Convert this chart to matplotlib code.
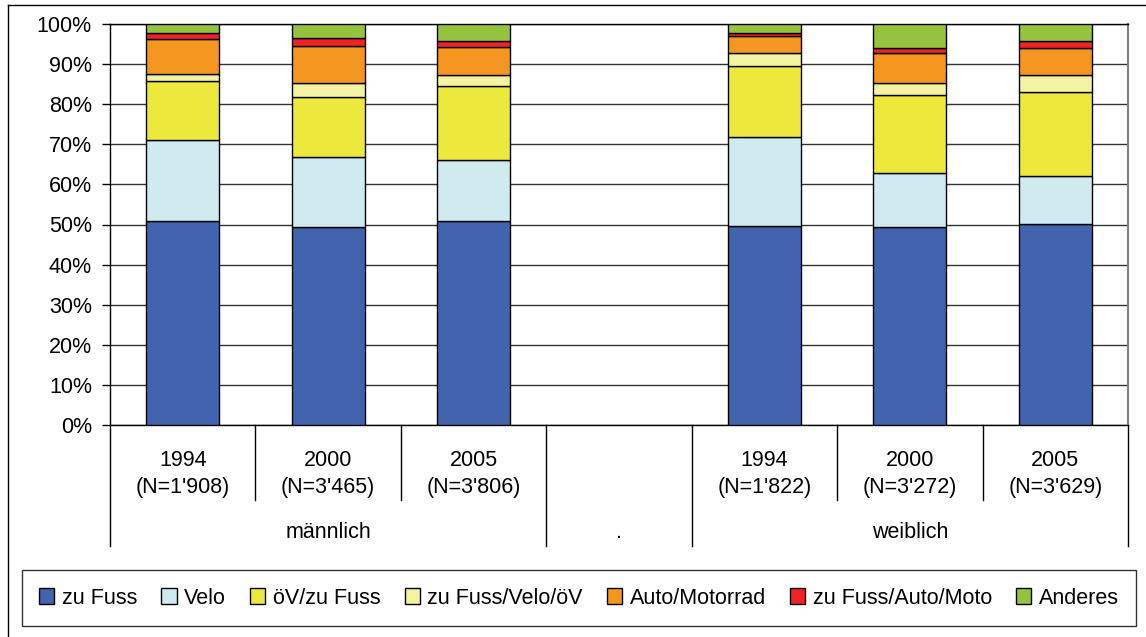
import matplotlib
matplotlib.use("Agg")
import matplotlib.pyplot as plt
import matplotlib.transforms as mtransforms
from matplotlib.patches import Rectangle
from matplotlib.lines import Line2D
import numpy as np

plt.rcParams['font.family'] = ['Liberation Sans', 'DejaVu Sans']

years = ["1994", "2000", "2005"]
n_maennlich = ["1'908", "3'465", "3'806"]
n_weiblich = ["1'822", "3'272", "3'629"]
groups = ["männlich", ".", "weiblich"]

series_names = ["zu Fuss", "Velo", "öV/zu Fuss", "zu Fuss/Velo/öV",
                "Auto/Motorrad", "zu Fuss/Auto/Moto", "Anderes"]
colors = ["#4263AE", "#D0EBEF", "#ECE93C", "#F4F3A2", "#F4961F", "#EE2325", "#95C33D"]

# order: m1994, m2000, m2005, w1994, w2000, w2005
zu_fuss      = [50.9, 49.4, 50.9, 49.6, 49.4, 50.1]
velo         = [20.2, 17.4, 15.3, 22.2, 13.4, 11.9]
oev_zu_fuss  = [14.6, 15.1, 18.3, 17.7, 19.4, 21.0]
fuss_velo_oev= [1.9, 3.4, 2.7, 3.3, 3.1, 4.2]
auto_motorrad= [8.6, 9.3, 7.1, 4.2, 7.5, 6.7]
fuss_auto    = [1.5, 1.9, 1.5, 0.7, 1.2, 1.9]
anderes      = [2.3, 3.5, 4.2, 2.3, 6.0, 4.2]

data = [zu_fuss, velo, oev_zu_fuss, fuss_velo_oev, auto_motorrad, fuss_auto, anderes]

FS = 15.5
W, H = 1146, 637
fig = plt.figure(figsize=(W/100, H/100), dpi=100)
ax = fig.add_axes([110/W, (H-425)/H, (1128-110)/W, (425-24)/H])

xpos = np.array([0.5, 1.5, 2.5, 4.5, 5.5, 6.5])
bottom = np.zeros(len(xpos))
for vals, col, name in zip(data, colors, series_names):
    v = np.array(vals)
    ax.bar(xpos, v, 0.5, bottom=bottom, color=col, edgecolor='black', linewidth=1.0,
           label=name, zorder=3)
    bottom += v

ax.set_xlim(0, 7)
ax.set_ylim(0, 100)
ax.set_yticks(np.arange(0, 101, 10))
ax.set_yticklabels([f"{t}%" for t in range(0, 101, 10)], fontsize=FS)
ax.set_xticks([])
ax.yaxis.grid(True, color='#333333', linewidth=1.0, zorder=0)
ax.tick_params(axis='y', length=6, width=1, color='black', pad=7)
for s in ['left', 'top', 'bottom']:
    ax.spines[s].set_color('black')
    ax.spines[s].set_linewidth(1.0)
ax.spines['right'].set_color('#808080')
ax.spines['right'].set_linewidth(1.5)

trans = mtransforms.blended_transform_factory(ax.transData, ax.transAxes)
short = -(500-425)/401
long_ = -(546-425)/401
for x in [1, 2, 5, 6]:
    ax.add_line(Line2D([x, x], [0, short], transform=trans, color='black',
                       linewidth=1.0, clip_on=False))
for x in [0, 3, 4, 7]:
    ax.add_line(Line2D([x, x], [0, long_], transform=trans, color='black',
                       linewidth=1.0, clip_on=False))

y1 = -(461-425)/401
y2 = -(488-425)/401
yg = -(532-425)/401
labels_n = n_maennlich + n_weiblich
labels_y = years + years
for x, yr, n in zip(xpos, labels_y, labels_n):
    ax.text(x, y1, yr, transform=trans, ha='center', va='center', fontsize=FS)
    ax.text(x, y2, f"(N={n})", transform=trans, ha='center', va='center', fontsize=FS)
for x, g in zip([1.5, 3.5, 5.5], groups):
    ax.text(x, yg, g, transform=trans, ha='center', va='center', fontsize=FS)

# legend
handles = [Rectangle((0, 0), 1, 1, facecolor=c, edgecolor='black', linewidth=1.0) for c in colors]
leg = fig.legend(handles, series_names, ncol=7, loc='center',
                 bbox_to_anchor=(22/W, (H-626)/H, (1136-22)/W, (626-570)/H),
                 mode='expand', fontsize=FS, frameon=True, fancybox=False,
                 edgecolor='black', handlelength=0.7, handleheight=0.7,
                 handletextpad=0.35, columnspacing=0.8, borderaxespad=0.0,
                 borderpad=0.8)
leg.get_frame().set_linewidth(1.0)

# outer border (top and left visible)
fig.add_artist(Line2D([8/W, 1.0], [(H-5)/H, (H-5)/H], transform=fig.transFigure,
                      color='black', linewidth=1.0))
fig.add_artist(Line2D([8/W, 8/W], [0, (H-5)/H], transform=fig.transFigure,
                      color='black', linewidth=1.0))

fig.savefig("out.png", dpi=100)
